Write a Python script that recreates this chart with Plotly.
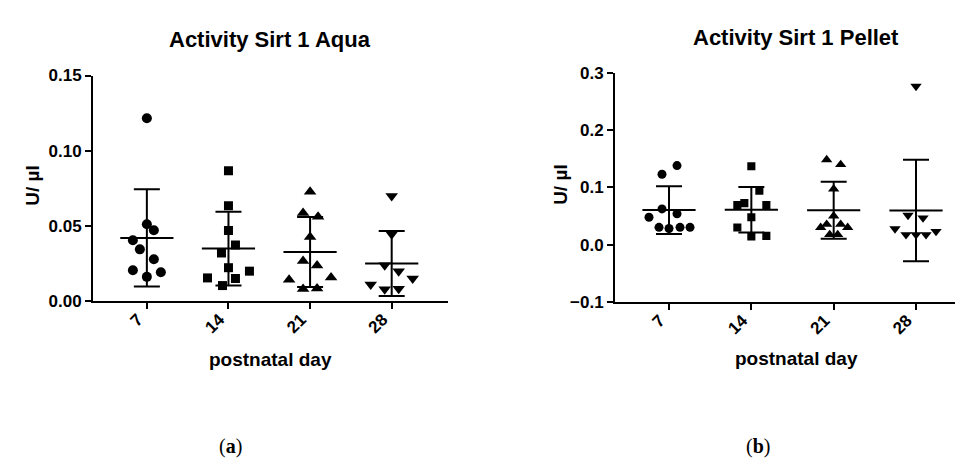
import numpy as np
import plotly.graph_objects as go

# ---------------- data ----------------
days = ["7", "14", "21", "28"]

aqua_d7 = [0.1215, 0.051, 0.047, 0.0404, 0.0343, 0.0277, 0.0204, 0.0191, 0.016]
aqua_d14 = [0.0866, 0.0634, 0.0468, 0.0372, 0.0319, 0.0221, 0.0198, 0.0153, 0.0149, 0.0102]
aqua_d21 = [0.0726, 0.0585, 0.056, 0.0426, 0.0266, 0.0236, 0.014, 0.0155, 0.0079, 0.0083]
aqua_d28 = [0.0698, 0.0443, 0.0238, 0.0198, 0.0149, 0.0109, 0.0077, 0.0081]

pellet_d7 = [0.1378, 0.1227, 0.0622, 0.0538, 0.0476, 0.030, 0.028, 0.030, 0.030]
pellet_d14 = [0.1367, 0.0941, 0.0723, 0.069, 0.069, 0.0476, 0.0297, 0.014, 0.0151]
pellet_d21 = [0.1479, 0.1395, 0.097, 0.0499, 0.0297, 0.0353, 0.0353, 0.0297, 0.0173, 0.0173]
pellet_d28 = [0.2761, 0.051, 0.0465, 0.0274, 0.0173, 0.0173, 0.0173, 0.023]

# horizontal scatter (beeswarm) offsets, in pixels
aqua_jit = [
    [0, 0, 7, -14, -7, 7, -14, 14, 0],
    [0, 0, 0, 7, -7, 0, 21, -21, 7, -6],
    [0, -7, 8, 0, -7, 7, -21, 21, -7, 7],
    [0, 0, -7, 7, 21, -21, -7, 7],
]
pellet_jit = [
    [8, -7, -7, 8, -20, -10, 0, 11, 21],
    [0, 8, -7, -14, 15, 0, -14, 0, 15],
    [-7, 7, 0, 0, -13, -7, 7, 14, -4, 4],
    [0, -8, 7, -21, -10, 0, 10, 20],
]

symbols = ["circle", "square", "triangle-up", "triangle-down"]
sizes = [10, 9, 11, 11]

W, H = 963, 465
FONT = "Liberation Sans, Arial, sans-serif"

fig = go.Figure()


def add_panel(groups, jits, xa, ya, px_per_unit, msize_scale):
    for i, (vals, jit) in enumerate(zip(groups, jits)):
        xs = [i + 1 + j / px_per_unit for j in jit]
        fig.add_trace(go.Scatter(
            x=xs, y=vals, mode="markers", xaxis=xa, yaxis=ya,
            marker=dict(symbol=symbols[i], size=sizes[i] * msize_scale, color="black",
                        line=dict(width=0)),
            showlegend=False, hoverinfo="y",
        ))
    for i, vals in enumerate(groups):
        m = float(np.mean(vals))
        sd = float(np.std(vals, ddof=1))
        fig.add_trace(go.Scatter(
            x=[i + 1], y=[m], mode="markers", xaxis=xa, yaxis=ya,
            marker=dict(symbol="line-ew", size=38, color="black",
                        line=dict(width=2, color="black")),
            error_y=dict(type="data", array=[sd], visible=True, thickness=2,
                         width=13, color="black"),
            showlegend=False, hoverinfo="y",
        ))


add_panel([aqua_d7, aqua_d14, aqua_d21, aqua_d28], aqua_jit, "x", "y", 81.7, 1.0)
add_panel([pellet_d7, pellet_d14, pellet_d21, pellet_d28], pellet_jit, "x2", "y2", 82.3, 0.9)


def px_x(p):
    return p / W


def px_y(p):
    return (H - p) / H


axis_common = dict(showline=True, linewidth=2, linecolor="black", ticks="outside",
                   ticklen=6, tickwidth=2, tickcolor="black", showgrid=False,
                   zeroline=False,
                   tickfont=dict(family=FONT, size=17, color="black", weight="bold"))
xtick_extra = dict(tickangle=-45, ticklabelshift=-9, ticklabelstandoff=-6)

fig.update_layout(
    width=W, height=H, margin=dict(l=0, r=0, t=0, b=0),
    paper_bgcolor="white", plot_bgcolor="white",
    xaxis=dict(domain=[px_x(85), px_x(440)], range=[0.34, 4.69], anchor="y",
               tickvals=[1, 2, 3, 4], ticktext=days, **xtick_extra, **axis_common),
    yaxis=dict(domain=[px_y(296), px_y(61)], range=[0, 0.15], anchor="x",
               tickvals=[0, 0.05, 0.10, 0.15], tickformat=".2f", **axis_common),
    xaxis2=dict(domain=[px_x(607), px_x(957)], range=[0.344, 4.595], anchor="y2",
                tickvals=[1, 2, 3, 4], ticktext=days, **xtick_extra, **axis_common),
    yaxis2=dict(domain=[px_y(297), px_y(58)], range=[-0.1, 0.3], anchor="x2",
                tickvals=[-0.1, 0.0, 0.1, 0.2, 0.3], tickformat=".1f", **axis_common),
)

ann = []


def text(x, y, s, size, rot=0, family=FONT, bold=True):
    ann.append(dict(x=px_x(x), y=px_y(y), xref="paper", yref="paper", text=s,
                    showarrow=False, textangle=rot, xanchor="center", yanchor="middle",
                    font=dict(family=family, size=size, color="black",
                              weight="bold" if bold else "normal")))


text(262, 23, "Activity Sirt 1 Aqua", 22)
text(788, 21, "Activity Sirt 1 Pellet", 22)
text(262, 357, "postnatal day", 19)
text(788, 356, "postnatal day", 19)
text(25, 176, "U/ µl", 19, rot=-90)
text(553, 175, "U/ µl", 19, rot=-90)
text(222, 448, "(<b>a</b>)", 20, family="Liberation Serif, serif", bold=False)
text(750, 448, "(<b>b</b>)", 20, family="Liberation Serif, serif", bold=False)

fig.update_layout(annotations=ann)

fig.write_html("out.html")
